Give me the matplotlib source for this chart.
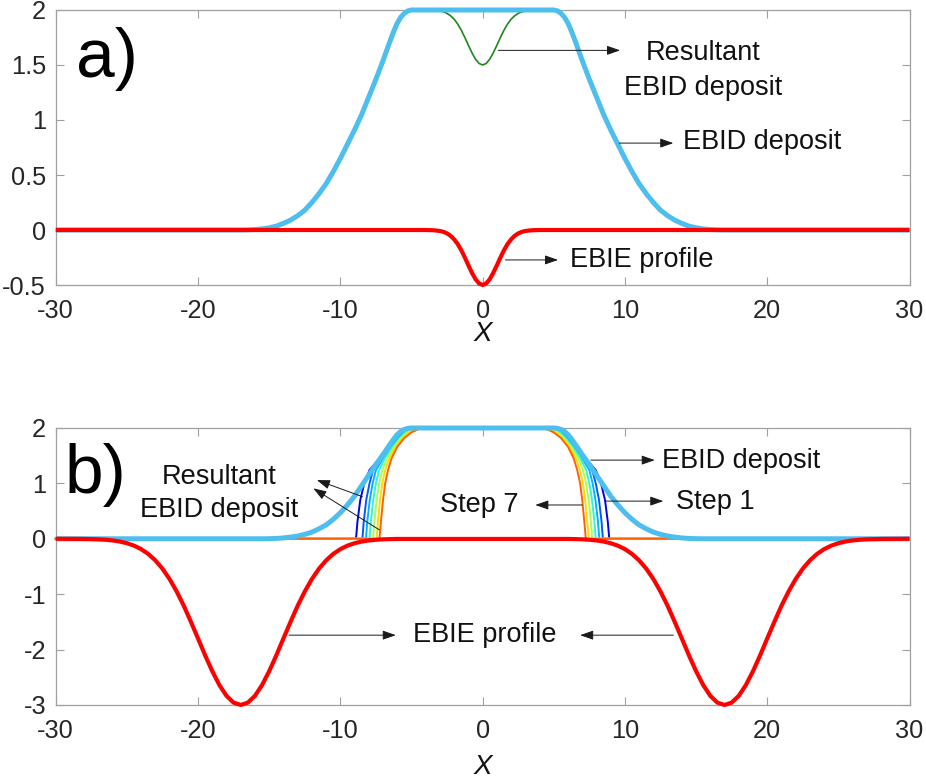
import matplotlib
matplotlib.use("Agg")
import matplotlib.pyplot as plt

plt.rcParams['font.family'] = ['Liberation Sans', 'DejaVu Sans']
plt.rcParams['axes.unicode_minus'] = False

# ---------------- data: panel a ----------------
a_dep_x = [-30, -17.0, -16.5, -16.0, -15.5, -15.0, -14.5, -14.0, -13.5, -13.0, -12.5, -12.0, -11.5,
           -11.0, -10.5, -10.0, -9.5, -9.0, -8.5, -8.0, -7.5, -7.0, -6.5, -6.25, -6.0, -5.75, -5.5,
           -5.25, -5.0,
           5.0, 5.25, 5.5, 5.75, 6.0, 6.25, 6.5, 7.0, 7.5, 8.0, 8.5, 9.0, 9.5, 10.0, 10.5, 11.0, 11.5,
           12.0, 12.5, 13.0, 13.5, 14.0, 14.5, 15.0, 15.5, 16.0, 16.5, 17.0, 30]
a_dep_y = [0, 0.0, 0.001, 0.004, 0.01, 0.02, 0.035, 0.06, 0.09, 0.13, 0.18, 0.25, 0.33,
           0.42, 0.53, 0.65, 0.78, 0.91, 1.05, 1.21, 1.37, 1.54, 1.72, 1.805, 1.88, 1.935, 1.97,
           1.992, 2.0,
           2.0, 1.992, 1.97, 1.935, 1.88, 1.805, 1.72, 1.54, 1.37, 1.21, 1.05, 0.91, 0.78, 0.65, 0.53,
           0.42, 0.33, 0.25, 0.18, 0.13, 0.09, 0.06, 0.035, 0.02, 0.01, 0.004, 0.001, 0.0, 0]

a_ebie_x = [-30, -4.0, -3.75, -3.5, -3.25, -3.0, -2.75, -2.5, -2.25, -2.0, -1.75, -1.5, -1.25, -1.0,
            -0.75, -0.5, -0.25, 0.0, 0.25, 0.5, 0.75, 1.0, 1.25, 1.5, 1.75, 2.0, 2.25, 2.5, 2.75,
            3.0, 3.25, 3.5, 3.75, 4.0, 30]
a_ebie_y = [0, 0.0, -0.001, -0.002, -0.005, -0.009, -0.017, -0.031, -0.053, -0.085, -0.128, -0.184,
            -0.25, -0.321, -0.389, -0.447, -0.486, -0.5, -0.486, -0.447, -0.389, -0.321, -0.25, -0.184,
            -0.128, -0.085, -0.053, -0.031, -0.017, -0.009, -0.005, -0.002, -0.001, 0.0, 0]

a_res_x = [-5.0, -4.0, -3.75, -3.5, -3.25, -3.0, -2.75, -2.5, -2.25, -2.0, -1.75, -1.5, -1.25, -1.0,
           -0.75, -0.5, -0.25, 0.0, 0.25, 0.5, 0.75, 1.0, 1.25, 1.5, 1.75, 2.0, 2.25, 2.5, 2.75,
           3.0, 3.25, 3.5, 3.75, 4.0, 5.0]
a_res_y = [2.0, 2.0, 1.999, 1.998, 1.995, 1.991, 1.983, 1.969, 1.947, 1.916, 1.872, 1.816, 1.75,
           1.679, 1.611, 1.553, 1.514, 1.5, 1.514, 1.553, 1.611, 1.679, 1.75, 1.816, 1.872, 1.916,
           1.947, 1.969, 1.983, 1.991, 1.995, 1.998, 1.999, 2.0, 2.0]

# ---------------- data: panel b ----------------
b_dep_x = [-30, -15.5, -15.0, -14.5, -14.0, -13.5, -13.0, -12.5, -12.0, -11.5, -11.0, -10.5, -10.0,
           -9.5, -9.0, -8.5, -8.0, -7.5, -7.0, -6.5, -6.25, -6.0, -5.75, -5.5, -5.25, -5.0,
           5.0, 5.25, 5.5, 5.75, 6.0, 6.25, 6.5, 7.0, 7.5, 8.0, 8.5, 9.0, 9.5, 10.0, 10.5, 11.0,
           11.5, 12.0, 12.5, 13.0, 13.5, 14.0, 14.5, 15.0, 15.5, 30]
b_dep_y = [0, 0.0, 0.002, 0.006, 0.015, 0.03, 0.05, 0.08, 0.12, 0.18, 0.25, 0.35, 0.47,
           0.61, 0.77, 0.96, 1.15, 1.34, 1.52, 1.71, 1.80, 1.88, 1.94, 1.975, 1.994, 2.0,
           2.0, 1.994, 1.975, 1.94, 1.88, 1.80, 1.71, 1.52, 1.34, 1.15, 0.96, 0.77, 0.61, 0.47, 0.35,
           0.25, 0.18, 0.12, 0.08, 0.05, 0.03, 0.015, 0.006, 0.002, 0.0, 0]

b_ebie_x = [-30, -28.0, -27.0, -26.5, -26.0, -25.5, -25.0, -24.5, -24.0, -23.5, -23.0, -22.5, -22.0,
            -21.5, -21.0, -20.5, -20.0, -19.5, -19.0, -18.5, -18.0, -17.5, -17.0, -16.5, -16.0,
            -15.5, -15.0, -14.5, -14.0, -13.5, -13.0, -12.5, -12.0, -11.5, -11.0, -10.5, -10.0,
            -9.5, -9.0, -8.5, -8.0, -7.5, -7.0, -6.5, -6.0,
            6.0, 6.5, 7.0, 7.5, 8.0, 8.5, 9.0, 9.5, 10.0, 10.5, 11.0, 11.5, 12.0, 12.5, 13.0,
            13.5, 14.0, 14.5, 15.0, 15.5, 16.0, 16.5, 17.0, 17.5, 18.0, 18.5, 19.0, 19.5, 20.0,
            20.5, 21.0, 21.5, 22.0, 22.5, 23.0, 23.5, 24.0, 24.5, 25.0, 25.5, 26.0, 26.5, 27.0,
            28.0, 30]
b_ebie_y = [0, -0.003, -0.010, -0.018, -0.030, -0.050, -0.080, -0.124, -0.187, -0.274, -0.39, -0.54,
            -0.727, -0.952, -1.21, -1.50, -1.80, -2.105, -2.39, -2.64, -2.835, -2.958, -3.0, -2.958,
            -2.835, -2.64, -2.39, -2.105, -1.80, -1.50, -1.21, -0.952, -0.727, -0.54, -0.39, -0.274,
            -0.187, -0.124, -0.080, -0.050, -0.030, -0.018, -0.010, -0.006, -0.003,
            -0.003, -0.006, -0.010, -0.018, -0.030, -0.050, -0.080, -0.124, -0.187, -0.274, -0.39,
            -0.54, -0.727, -0.952, -1.21, -1.50, -1.80, -2.105, -2.39, -2.64, -2.835, -2.958, -3.0,
            -2.958, -2.835, -2.64, -2.39, -2.105, -1.80, -1.50, -1.21, -0.952, -0.727, -0.54, -0.39,
            -0.274, -0.187, -0.124, -0.080, -0.050, -0.030, -0.018, -0.010, -0.003, 0]

# resultant deposits, steps 1..7 (shared y profile, x per step)
step_y = [0, 0, 0.3, 0.7, 1.0, 1.24, 1.45, 1.66, 1.82, 1.92, 1.98, 2.0,
          2.0, 1.98, 1.92, 1.82, 1.66, 1.45, 1.24, 1.0, 0.7, 0.3, 0, 0]
step1_x = [-30, -8.90, -8.80, -8.60, -8.32, -7.95, -7.25, -6.60, -6.20, -5.85, -5.50, -5.10,
           5.10, 5.50, 5.85, 6.20, 6.60, 7.25, 7.95, 8.32, 8.60, 8.80, 8.90, 30]
step2_x = [-30, -8.45, -8.36, -8.18, -7.95, -7.70, -7.12, -6.52, -6.05, -5.70, -5.35, -5.00,
           5.00, 5.35, 5.70, 6.05, 6.52, 7.12, 7.70, 7.95, 8.18, 8.36, 8.45, 30]
step3_x = [-30, -8.20, -8.11, -7.93, -7.73, -7.50, -7.00, -6.42, -5.93, -5.56, -5.18, -4.85,
           4.85, 5.18, 5.56, 5.93, 6.42, 7.00, 7.50, 7.73, 7.93, 8.11, 8.20, 30]
step4_x = [-30, -7.95, -7.86, -7.69, -7.50, -7.28, -6.88, -6.32, -5.82, -5.42, -5.00, -4.70,
           4.70, 5.00, 5.42, 5.82, 6.32, 6.88, 7.28, 7.50, 7.69, 7.86, 7.95, 30]
step5_x = [-30, -7.70, -7.61, -7.45, -7.27, -7.05, -6.73, -6.22, -5.72, -5.28, -4.84, -4.55,
           4.55, 4.84, 5.28, 5.72, 6.22, 6.73, 7.05, 7.27, 7.45, 7.61, 7.70, 30]
step6_x = [-30, -7.45, -7.36, -7.21, -7.05, -6.85, -6.56, -6.10, -5.60, -5.13, -4.66, -4.38,
           4.38, 4.66, 5.13, 5.60, 6.10, 6.56, 6.85, 7.05, 7.21, 7.36, 7.45, 30]
step7_x = [-30, -7.25, -7.15, -7.00, -6.85, -6.65, -6.40, -6.00, -5.50, -5.00, -4.50, -4.20,
           4.20, 4.50, 5.00, 5.50, 6.00, 6.40, 6.65, 6.85, 7.00, 7.15, 7.25, 30]
steps_x = [step1_x, step2_x, step3_x, step4_x, step5_x, step6_x, step7_x]
step_colors = [(0.0, 0.0, 0.95), (0.0, 0.35, 1.0), (0.0, 0.7, 1.0), (0.2, 0.95, 0.85),
               (0.65, 1.0, 0.35), (1.0, 0.85, 0.0), (1.0, 0.38, 0.0)]

xticks = [-30, -20, -10, 0, 10, 20, 30]
a_yticks = [-0.5, 0, 0.5, 1, 1.5, 2]
a_yticklabels = ['-0.5', '0', '0.5', '1', '1.5', '2']
b_yticks = [-3, -2, -1, 0, 1, 2]
b_yticklabels = ['-3', '-2', '-1', '0', '1', '2']

# ---------------- styling ----------------
SKY = '#4DBEEE'
RED = '#FF0000'
GREEN = '#1E861E'
SPINE = '#A0A0A0'
TICKLAB = '#262626'
TXT = '#111111'
FS_TICK = 18.3
FS_TXT = 19.5

fig = plt.figure(figsize=(9.26, 7.80), dpi=100)
axA = fig.add_axes([0.0602, 0.6346, 0.9220, 0.3526])
axB = fig.add_axes([0.0602, 0.0962, 0.9220, 0.3551])


def style(ax, yt, ytl, ylim):
    ax.set_xlim(-30, 30)
    ax.set_ylim(*ylim)
    ax.set_xticks(xticks)
    ax.set_xticklabels([str(v) for v in xticks])
    ax.set_yticks(yt)
    ax.set_yticklabels(ytl)
    for s in ax.spines.values():
        s.set_color(SPINE)
        s.set_linewidth(0.9)
    ax.tick_params(direction='in', top=True, right=True, length=5.5, width=0.8,
                   color=SPINE, labelcolor=TICKLAB, labelsize=FS_TICK)
    ax.tick_params(axis='x', pad=10)
    ax.tick_params(axis='y', pad=7)


def arrow(ax, tail, head):
    ax.annotate('', xy=head, xytext=tail,
                arrowprops=dict(arrowstyle='-|>,head_length=0.8,head_width=0.28',
                                color='#1a1a1a', lw=0.7, shrinkA=0, shrinkB=0))


# ---- panel a ----
axA.plot(a_res_x, a_res_y, color=GREEN, lw=1.2, clip_on=False, zorder=2)
axA.plot(a_dep_x, a_dep_y, color=SKY, lw=3.6, clip_on=False, zorder=3, solid_capstyle='butt',
         solid_joinstyle='round')
axA.plot(a_ebie_x, a_ebie_y, color=RED, lw=3.0, clip_on=False, zorder=4, solid_capstyle='butt',
         solid_joinstyle='round')
style(axA, a_yticks, a_yticklabels, (-0.5, 2))
axA.text(0.5, -0.178, 'X', transform=axA.transAxes, ha='center', va='center',
         fontsize=20, style='italic', color=TXT)
axA.text(-28.6, 1.395, 'a)', fontsize=50, ha='left', va='baseline', color='k')

arrow(axA, (1.1, 1.633), (9.66, 1.633))
axA.text(15.5, 1.45, 'Resultant\nEBID deposit', ha='center', va='center',
         fontsize=FS_TXT, color=TXT, linespacing=1.45)
arrow(axA, (9.6, 0.79), (13.4, 0.79))
axA.text(14.1, 0.797, 'EBID deposit', ha='left', va='center', fontsize=FS_TXT, color=TXT)
arrow(axA, (1.6, -0.272), (5.3, -0.272))
axA.text(6.15, -0.272, 'EBIE profile', ha='left', va='center', fontsize=FS_TXT, color=TXT)

# ---- panel b ----
for sx, c in zip(steps_x, step_colors):
    axB.plot(sx, step_y, color=c, lw=1.4, clip_on=False, zorder=2)
axB.plot(b_dep_x, b_dep_y, color=SKY, lw=3.6, clip_on=False, zorder=3, solid_capstyle='butt',
         solid_joinstyle='round')
axB.plot(b_ebie_x, b_ebie_y, color=RED, lw=3.0, clip_on=False, zorder=4, solid_capstyle='butt',
         solid_joinstyle='round')
style(axB, b_yticks, b_yticklabels, (-3, 2))
axB.text(0.5, -0.225, 'X', transform=axB.transAxes, ha='center', va='center',
         fontsize=20, style='italic', color=TXT)
axB.text(-29.35, 0.83, 'b)', fontsize=50, ha='left', va='baseline', color='k')

arrow(axB, (7.6, 1.42), (12.1, 1.42))
axB.text(12.6, 1.41, 'EBID deposit', ha='left', va='center', fontsize=FS_TXT, color=TXT)
arrow(axB, (8.6, 0.68), (12.7, 0.68))
axB.text(13.6, 0.67, 'Step 1', ha='left', va='center', fontsize=FS_TXT, color=TXT)
arrow(axB, (7.0, 0.61), (3.7, 0.61))
axB.text(2.5, 0.61, 'Step 7', ha='right', va='center', fontsize=FS_TXT, color=TXT)
arrow(axB, (-8.45, 0.76), (-11.65, 1.06))
arrow(axB, (-7.25, 0.16), (-11.9, 0.91))
axB.text(-18.5, 0.82, 'Resultant\nEBID deposit', ha='center', va='center',
         fontsize=FS_TXT, color=TXT, linespacing=1.32)
arrow(axB, (-13.6, -1.74), (-6.1, -1.74))
arrow(axB, (13.4, -1.74), (6.85, -1.74))
axB.text(0.14, -1.74, 'EBIE profile', ha='center', va='center', fontsize=FS_TXT, color=TXT)

fig.savefig('out.png', dpi=100)
